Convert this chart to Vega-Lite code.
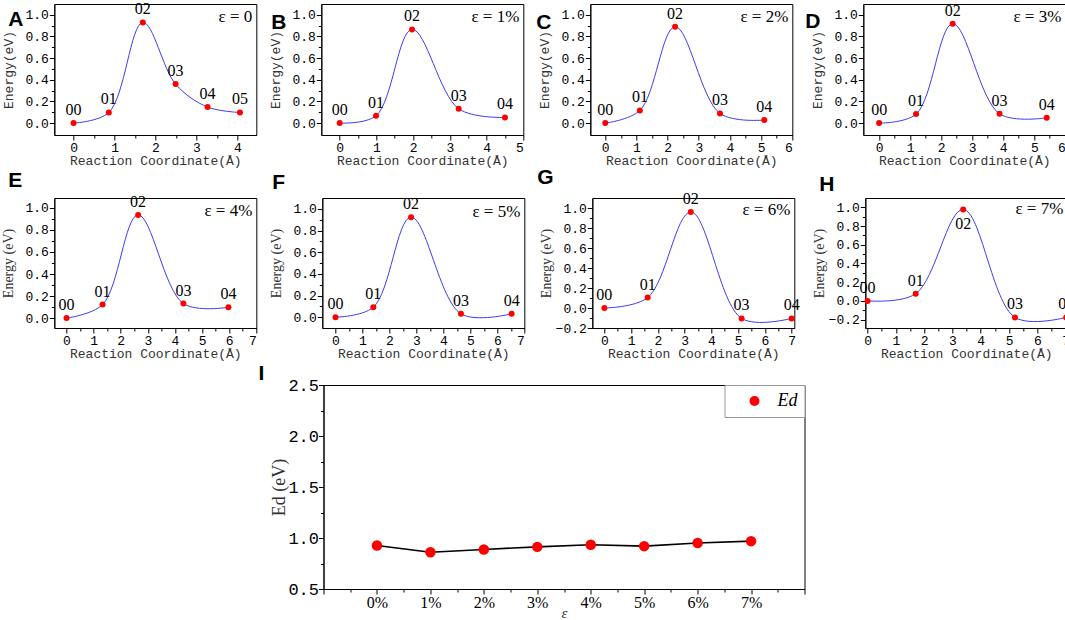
{
  "$schema": "https://vega.github.io/schema/vega-lite/v6.json",
  "padding": {"left": 0, "top": 0, "right": 0, "bottom": 0},
  "center": true,
  "spacing": 1,
  "resolve": {"scale": {"color": "independent"}, "legend": {"color": "independent"}},
  "datasets": {
    "neb": [
      {"panel": "A", "label": "00", "rc": 0, "E": 0},
      {"panel": "A", "label": "01", "rc": 0.86, "E": 0.098},
      {"panel": "A", "label": "02", "rc": 1.69, "E": 0.93},
      {"panel": "A", "label": "03", "rc": 2.49, "E": 0.36},
      {"panel": "A", "label": "04", "rc": 3.27, "E": 0.148},
      {"panel": "A", "label": "05", "rc": 4.06, "E": 0.098},
      {"panel": "B", "label": "00", "rc": 0, "E": 0},
      {"panel": "B", "label": "01", "rc": 0.99, "E": 0.068},
      {"panel": "B", "label": "02", "rc": 1.97, "E": 0.865},
      {"panel": "B", "label": "03", "rc": 3.24, "E": 0.132},
      {"panel": "B", "label": "04", "rc": 4.5, "E": 0.052},
      {"panel": "C", "label": "00", "rc": 0, "E": 0},
      {"panel": "C", "label": "01", "rc": 1.11, "E": 0.117},
      {"panel": "C", "label": "02", "rc": 2.24, "E": 0.89},
      {"panel": "C", "label": "03", "rc": 3.68, "E": 0.089},
      {"panel": "C", "label": "04", "rc": 5.1, "E": 0.028},
      {"panel": "D", "label": "00", "rc": 0, "E": 0},
      {"panel": "D", "label": "01", "rc": 1.19, "E": 0.083},
      {"panel": "D", "label": "02", "rc": 2.37, "E": 0.917},
      {"panel": "D", "label": "03", "rc": 3.88, "E": 0.086},
      {"panel": "D", "label": "04", "rc": 5.4, "E": 0.049},
      {"panel": "E", "label": "00", "rc": 0, "E": 0},
      {"panel": "E", "label": "01", "rc": 1.33, "E": 0.123},
      {"panel": "E", "label": "02", "rc": 2.64, "E": 0.936},
      {"panel": "E", "label": "03", "rc": 4.31, "E": 0.132},
      {"panel": "E", "label": "04", "rc": 5.97, "E": 0.098},
      {"panel": "F", "label": "00", "rc": 0, "E": 0},
      {"panel": "F", "label": "01", "rc": 1.4, "E": 0.092},
      {"panel": "F", "label": "02", "rc": 2.8, "E": 0.923},
      {"panel": "F", "label": "03", "rc": 4.65, "E": 0.031},
      {"panel": "F", "label": "04", "rc": 6.53, "E": 0.031},
      {"panel": "G", "label": "00", "rc": 0, "E": 0},
      {"panel": "G", "label": "01", "rc": 1.62, "E": 0.104},
      {"panel": "G", "label": "02", "rc": 3.23, "E": 0.96},
      {"panel": "G", "label": "03", "rc": 5.13, "E": -0.104},
      {"panel": "G", "label": "04", "rc": 7.0, "E": -0.104},
      {"panel": "H", "label": "00", "rc": 0, "E": 0},
      {"panel": "H", "label": "01", "rc": 1.7, "E": 0.076},
      {"panel": "H", "label": "02", "rc": 3.38, "E": 0.978},
      {"panel": "H", "label": "03", "rc": 5.21, "E": -0.177},
      {"panel": "H", "label": "04", "rc": 7.02, "E": -0.177}
    ],
    "ed": [
      {"strain": 0, "Ed": 0.927},
      {"strain": 1, "Ed": 0.86},
      {"strain": 2, "Ed": 0.888},
      {"strain": 3, "Ed": 0.913},
      {"strain": 4, "Ed": 0.934},
      {"strain": 5, "Ed": 0.92},
      {"strain": 6, "Ed": 0.951},
      {"strain": 7, "Ed": 0.969}
    ]
  },
  "vconcat": [
    {
      "spacing": -2,
      "vconcat": [
        {
          "hconcat": [
            {
              "width": 202, "height": 131,
              "title": {"text": "A", "dx": -46, "offset": -29},
              "encoding": {
                "x": {"field": "rc", "type": "quantitative", "title": "Reaction Coordinate(Å)", "scale": {"domain": [-0.47, 4.46], "nice": false, "zero": false},
                  "axis": {"values": [0, 0.5, 1, 1.5, 2, 2.5, 3, 3.5, 4], "labelExpr": "datum.value % 1 === 0 ? format(datum.value, 'd') : ''", "tickSize": {"condition": {"test": "datum.value % 1 === 0", "value": 5}, "value": 3}}},
                "y": {"field": "E", "type": "quantitative", "title": "Energy(eV)", "scale": {"domain": [-0.11, 1.1], "nice": false, "zero": false},
                  "axis": {"values": [0, 0.1, 0.2, 0.3, 0.4, 0.5, 0.6, 0.7, 0.8, 0.9, 1.0], "labelExpr": "abs(datum.value * 5 - round(datum.value * 5)) < 0.001 ? format(datum.value, '.1f') : ''", "tickSize": {"condition": {"test": "abs(datum.value * 5 - round(datum.value * 5)) < 0.001", "value": 5}, "value": 3}}}
              },
              "layer": [
                {"data": {"name": "neb"}, "transform": [{"filter": "datum.panel === 'A'"}], "mark": {"type": "line", "interpolate": "catmull-rom", "color": "#3c3cf5", "strokeWidth": 1}},
                {"data": {"name": "neb"}, "transform": [{"filter": "datum.panel === 'A'"}], "mark": {"type": "point", "filled": true, "color": "#ff0000", "opacity": 1, "size": 36}},
                {"data": {"name": "neb"}, "transform": [{"filter": "datum.panel === 'A'"}], "mark": {"type": "text", "dy": -13, "font": "Liberation Serif", "fontSize": 16}, "encoding": {"text": {"field": "label"}}},
                {"data": {"name": "neb"}, "transform": [{"filter": "datum.panel === 'A' && datum.label === '00'"}], "mark": {"type": "text", "text": "ε =  0", "align": "right", "dx": -4, "font": "Liberation Serif", "fontSize": 17, "color": "black"}, "encoding": {"x": {"datum": 4.46}, "y": {"datum": 0.98}}}
              ]
            },
            {
              "width": 202, "height": 131,
              "title": {"text": "B", "dx": -50, "offset": -29},
              "encoding": {
                "x": {"field": "rc", "type": "quantitative", "title": "Reaction Coordinate(Å)", "scale": {"domain": [-0.5, 5], "nice": false, "zero": false},
                  "axis": {"values": [0, 0.5, 1, 1.5, 2, 2.5, 3, 3.5, 4, 4.5, 5], "labelExpr": "datum.value % 1 === 0 ? format(datum.value, 'd') : ''", "tickSize": {"condition": {"test": "datum.value % 1 === 0", "value": 5}, "value": 3}}},
                "y": {"field": "E", "type": "quantitative", "title": "Energy(eV)", "scale": {"domain": [-0.11, 1.1], "nice": false, "zero": false},
                  "axis": {"values": [0, 0.1, 0.2, 0.3, 0.4, 0.5, 0.6, 0.7, 0.8, 0.9, 1.0], "labelExpr": "abs(datum.value * 5 - round(datum.value * 5)) < 0.001 ? format(datum.value, '.1f') : ''", "tickSize": {"condition": {"test": "abs(datum.value * 5 - round(datum.value * 5)) < 0.001", "value": 5}, "value": 3}}}
              },
              "layer": [
                {"data": {"name": "neb"}, "transform": [{"filter": "datum.panel === 'B'"}], "mark": {"type": "line", "interpolate": "catmull-rom", "color": "#3c3cf5", "strokeWidth": 1}},
                {"data": {"name": "neb"}, "transform": [{"filter": "datum.panel === 'B'"}], "mark": {"type": "point", "filled": true, "color": "#ff0000", "opacity": 1, "size": 36}},
                {"data": {"name": "neb"}, "transform": [{"filter": "datum.panel === 'B'"}], "mark": {"type": "text", "dy": -13, "font": "Liberation Serif", "fontSize": 16}, "encoding": {"text": {"field": "label"}}},
                {"data": {"name": "neb"}, "transform": [{"filter": "datum.panel === 'B' && datum.label === '00'"}], "mark": {"type": "text", "text": "ε =  1%", "align": "right", "dx": -4, "font": "Liberation Serif", "fontSize": 17, "color": "black"}, "encoding": {"x": {"datum": 5}, "y": {"datum": 0.98}}}
              ]
            },
            {
              "width": 202, "height": 131,
              "title": {"text": "C", "dx": -54, "offset": -29},
              "encoding": {
                "x": {"field": "rc", "type": "quantitative", "title": "Reaction Coordinate(Å)", "scale": {"domain": [-0.48, 6], "nice": false, "zero": false},
                  "axis": {"values": [0, 0.5, 1, 1.5, 2, 2.5, 3, 3.5, 4, 4.5, 5, 5.5, 6], "labelExpr": "datum.value % 1 === 0 ? format(datum.value, 'd') : ''", "tickSize": {"condition": {"test": "datum.value % 1 === 0", "value": 5}, "value": 3}}},
                "y": {"field": "E", "type": "quantitative", "title": "Energy(eV)", "scale": {"domain": [-0.11, 1.1], "nice": false, "zero": false},
                  "axis": {"values": [0, 0.1, 0.2, 0.3, 0.4, 0.5, 0.6, 0.7, 0.8, 0.9, 1.0], "labelExpr": "abs(datum.value * 5 - round(datum.value * 5)) < 0.001 ? format(datum.value, '.1f') : ''", "tickSize": {"condition": {"test": "abs(datum.value * 5 - round(datum.value * 5)) < 0.001", "value": 5}, "value": 3}}}
              },
              "layer": [
                {"data": {"name": "neb"}, "transform": [{"filter": "datum.panel === 'C'"}], "mark": {"type": "line", "interpolate": "catmull-rom", "color": "#3c3cf5", "strokeWidth": 1}},
                {"data": {"name": "neb"}, "transform": [{"filter": "datum.panel === 'C'"}], "mark": {"type": "point", "filled": true, "color": "#ff0000", "opacity": 1, "size": 36}},
                {"data": {"name": "neb"}, "transform": [{"filter": "datum.panel === 'C'"}], "mark": {"type": "text", "dy": -13, "font": "Liberation Serif", "fontSize": 16}, "encoding": {"text": {"field": "label"}}},
                {"data": {"name": "neb"}, "transform": [{"filter": "datum.panel === 'C' && datum.label === '00'"}], "mark": {"type": "text", "text": "ε =  2%", "align": "right", "dx": -4, "font": "Liberation Serif", "fontSize": 17, "color": "black"}, "encoding": {"x": {"datum": 6}, "y": {"datum": 0.98}}}
              ]
            },
            {
              "width": 202, "height": 131,
              "title": {"text": "D", "dx": -58, "offset": -29},
              "encoding": {
                "x": {"field": "rc", "type": "quantitative", "title": "Reaction Coordinate(Å)", "scale": {"domain": [-0.51, 6], "nice": false, "zero": false},
                  "axis": {"values": [0, 0.5, 1, 1.5, 2, 2.5, 3, 3.5, 4, 4.5, 5, 5.5, 6], "labelExpr": "datum.value % 1 === 0 ? format(datum.value, 'd') : ''", "tickSize": {"condition": {"test": "datum.value % 1 === 0", "value": 5}, "value": 3}}},
                "y": {"field": "E", "type": "quantitative", "title": "Energy(eV)", "scale": {"domain": [-0.11, 1.1], "nice": false, "zero": false},
                  "axis": {"values": [0, 0.1, 0.2, 0.3, 0.4, 0.5, 0.6, 0.7, 0.8, 0.9, 1.0], "labelExpr": "abs(datum.value * 5 - round(datum.value * 5)) < 0.001 ? format(datum.value, '.1f') : ''", "tickSize": {"condition": {"test": "abs(datum.value * 5 - round(datum.value * 5)) < 0.001", "value": 5}, "value": 3}}}
              },
              "layer": [
                {"data": {"name": "neb"}, "transform": [{"filter": "datum.panel === 'D'"}], "mark": {"type": "line", "interpolate": "catmull-rom", "color": "#3c3cf5", "strokeWidth": 1}},
                {"data": {"name": "neb"}, "transform": [{"filter": "datum.panel === 'D'"}], "mark": {"type": "point", "filled": true, "color": "#ff0000", "opacity": 1, "size": 36}},
                {"data": {"name": "neb"}, "transform": [{"filter": "datum.panel === 'D'"}], "mark": {"type": "text", "dy": -13, "font": "Liberation Serif", "fontSize": 16}, "encoding": {"text": {"field": "label"}}},
                {"data": {"name": "neb"}, "transform": [{"filter": "datum.panel === 'D' && datum.label === '00'"}], "mark": {"type": "text", "text": "ε =  3%", "align": "right", "dx": -4, "font": "Liberation Serif", "fontSize": 17, "color": "black"}, "encoding": {"x": {"datum": 6}, "y": {"datum": 0.98}}}
              ]
            }
          ],
          "spacing": 11
        },
        {
          "hconcat": [
            {
              "width": 202, "height": 130,
              "title": {"text": "E", "dx": -46, "offset": 3},
              "encoding": {
                "x": {"field": "rc", "type": "quantitative", "title": "Reaction Coordinate(Å)", "scale": {"domain": [-0.45, 7], "nice": false, "zero": false},
                  "axis": {"values": [0, 0.5, 1, 1.5, 2, 2.5, 3, 3.5, 4, 4.5, 5, 5.5, 6, 6.5, 7], "labelExpr": "datum.value % 1 === 0 ? format(datum.value, 'd') : ''", "tickSize": {"condition": {"test": "datum.value % 1 === 0", "value": 5}, "value": 3}}},
                "y": {"field": "E", "type": "quantitative", "title": "Energy (eV)", "scale": {"domain": [-0.09, 1.09], "nice": false, "zero": false},
                  "axis": {"titleFont": "Liberation Serif", "titleFontSize": 14, "values": [0, 0.1, 0.2, 0.3, 0.4, 0.5, 0.6, 0.7, 0.8, 0.9, 1.0], "labelExpr": "abs(datum.value * 5 - round(datum.value * 5)) < 0.001 ? format(datum.value, '.1f') : ''", "tickSize": {"condition": {"test": "abs(datum.value * 5 - round(datum.value * 5)) < 0.001", "value": 5}, "value": 3}}}
              },
              "layer": [
                {"data": {"name": "neb"}, "transform": [{"filter": "datum.panel === 'E'"}], "mark": {"type": "line", "interpolate": "catmull-rom", "color": "#3c3cf5", "strokeWidth": 1}},
                {"data": {"name": "neb"}, "transform": [{"filter": "datum.panel === 'E'"}], "mark": {"type": "point", "filled": true, "color": "#ff0000", "opacity": 1, "size": 36}},
                {"data": {"name": "neb"}, "transform": [{"filter": "datum.panel === 'E'"}], "mark": {"type": "text", "dy": -13, "font": "Liberation Serif", "fontSize": 16}, "encoding": {"text": {"field": "label"}}},
                {"data": {"name": "neb"}, "transform": [{"filter": "datum.panel === 'E' && datum.label === '00'"}], "mark": {"type": "text", "text": "ε =  4%", "align": "right", "dx": -4, "font": "Liberation Serif", "fontSize": 17, "color": "black"}, "encoding": {"x": {"datum": 7}, "y": {"datum": 0.97}}}
              ]
            },
            {
              "width": 202, "height": 130,
              "title": {"text": "F", "dx": -50, "offset": 3},
              "encoding": {
                "x": {"field": "rc", "type": "quantitative", "title": "Reaction Coordinate(Å)", "scale": {"domain": [-0.49, 7], "nice": false, "zero": false},
                  "axis": {"values": [0, 0.5, 1, 1.5, 2, 2.5, 3, 3.5, 4, 4.5, 5, 5.5, 6, 6.5, 7], "labelExpr": "datum.value % 1 === 0 ? format(datum.value, 'd') : ''", "tickSize": {"condition": {"test": "datum.value % 1 === 0", "value": 5}, "value": 3}}},
                "y": {"field": "E", "type": "quantitative", "title": "Energy (eV)", "scale": {"domain": [-0.1, 1.1], "nice": false, "zero": false},
                  "axis": {"titleFont": "Liberation Serif", "titleFontSize": 14, "values": [0, 0.1, 0.2, 0.3, 0.4, 0.5, 0.6, 0.7, 0.8, 0.9, 1.0], "labelExpr": "abs(datum.value * 5 - round(datum.value * 5)) < 0.001 ? format(datum.value, '.1f') : ''", "tickSize": {"condition": {"test": "abs(datum.value * 5 - round(datum.value * 5)) < 0.001", "value": 5}, "value": 3}}}
              },
              "layer": [
                {"data": {"name": "neb"}, "transform": [{"filter": "datum.panel === 'F'"}], "mark": {"type": "line", "interpolate": "catmull-rom", "color": "#3c3cf5", "strokeWidth": 1}},
                {"data": {"name": "neb"}, "transform": [{"filter": "datum.panel === 'F'"}], "mark": {"type": "point", "filled": true, "color": "#ff0000", "opacity": 1, "size": 36}},
                {"data": {"name": "neb"}, "transform": [{"filter": "datum.panel === 'F'"}], "mark": {"type": "text", "dy": -13, "font": "Liberation Serif", "fontSize": 16}, "encoding": {"text": {"field": "label"}}},
                {"data": {"name": "neb"}, "transform": [{"filter": "datum.panel === 'F' && datum.label === '00'"}], "mark": {"type": "text", "text": "ε =  5%", "align": "right", "dx": -4, "font": "Liberation Serif", "fontSize": 17, "color": "black"}, "encoding": {"x": {"datum": 7}, "y": {"datum": 0.97}}}
              ]
            },
            {
              "width": 202, "height": 130,
              "title": {"text": "G", "dx": -55, "offset": 3},
              "encoding": {
                "x": {"field": "rc", "type": "quantitative", "title": "Reaction Coordinate(Å)", "scale": {"domain": [-0.45, 7.1], "nice": false, "zero": false},
                  "axis": {"values": [0, 0.5, 1, 1.5, 2, 2.5, 3, 3.5, 4, 4.5, 5, 5.5, 6, 6.5, 7], "labelExpr": "datum.value % 1 === 0 ? format(datum.value, 'd') : ''", "tickSize": {"condition": {"test": "datum.value % 1 === 0", "value": 5}, "value": 3}}},
                "y": {"field": "E", "type": "quantitative", "title": "Energy (eV)", "scale": {"domain": [-0.2, 1.1], "nice": false, "zero": false},
                  "axis": {"titleFont": "Liberation Serif", "titleFontSize": 14, "values": [-0.2, -0.1, 0, 0.1, 0.2, 0.3, 0.4, 0.5, 0.6, 0.7, 0.8, 0.9, 1.0], "labelExpr": "abs(datum.value * 5 - round(datum.value * 5)) < 0.001 ? format(datum.value, '.1f') : ''", "tickSize": {"condition": {"test": "abs(datum.value * 5 - round(datum.value * 5)) < 0.001", "value": 5}, "value": 3}}}
              },
              "layer": [
                {"data": {"name": "neb"}, "transform": [{"filter": "datum.panel === 'G'"}], "mark": {"type": "line", "interpolate": "catmull-rom", "color": "#3c3cf5", "strokeWidth": 1}},
                {"data": {"name": "neb"}, "transform": [{"filter": "datum.panel === 'G'"}], "mark": {"type": "point", "filled": true, "color": "#ff0000", "opacity": 1, "size": 36}},
                {"data": {"name": "neb"}, "transform": [{"filter": "datum.panel === 'G'"}], "mark": {"type": "text", "dy": -13, "font": "Liberation Serif", "fontSize": 16}, "encoding": {"text": {"field": "label"}}},
                {"data": {"name": "neb"}, "transform": [{"filter": "datum.panel === 'G' && datum.label === '00'"}], "mark": {"type": "text", "text": "ε =  6%", "align": "right", "dx": -4, "font": "Liberation Serif", "fontSize": 17, "color": "black"}, "encoding": {"x": {"datum": 7.1}, "y": {"datum": 0.98}}}
              ]
            },
            {
              "width": 202, "height": 130,
              "title": {"text": "H", "dx": -46, "offset": 3},
              "encoding": {
                "x": {"field": "rc", "type": "quantitative", "title": "Reaction Coordinate(Å)", "scale": {"domain": [-0.08, 7.06], "nice": false, "zero": false},
                  "axis": {"values": [0, 0.5, 1, 1.5, 2, 2.5, 3, 3.5, 4, 4.5, 5, 5.5, 6, 6.5, 7], "labelExpr": "datum.value % 1 === 0 ? format(datum.value, 'd') : ''", "tickSize": {"condition": {"test": "datum.value % 1 === 0", "value": 5}, "value": 3}}},
                "y": {"field": "E", "type": "quantitative", "title": "Energy (eV)", "scale": {"domain": [-0.29, 1.1], "nice": false, "zero": false},
                  "axis": {"titleFont": "Liberation Serif", "titleFontSize": 14, "values": [-0.2, -0.1, 0, 0.1, 0.2, 0.3, 0.4, 0.5, 0.6, 0.7, 0.8, 0.9, 1.0], "labelExpr": "abs(datum.value * 5 - round(datum.value * 5)) < 0.001 ? format(datum.value, '.1f') : ''", "tickSize": {"condition": {"test": "abs(datum.value * 5 - round(datum.value * 5)) < 0.001", "value": 5}, "value": 3}}}
              },
              "layer": [
                {"data": {"name": "neb"}, "transform": [{"filter": "datum.panel === 'H'"}], "mark": {"type": "line", "interpolate": "catmull-rom", "color": "#3c3cf5", "strokeWidth": 1}},
                {"data": {"name": "neb"}, "transform": [{"filter": "datum.panel === 'H'"}], "mark": {"type": "point", "filled": true, "color": "#ff0000", "opacity": 1, "size": 36}},
                {"data": {"name": "neb"}, "transform": [{"filter": "datum.panel === 'H' && datum.label !== '02'"}], "mark": {"type": "text", "dy": -13, "font": "Liberation Serif", "fontSize": 16}, "encoding": {"text": {"field": "label"}}},
                {"data": {"name": "neb"}, "transform": [{"filter": "datum.panel === 'H' && datum.label === '02'"}], "mark": {"type": "text", "dy": 15, "font": "Liberation Serif", "fontSize": 16}, "encoding": {"text": {"field": "label"}}},
                {"data": {"name": "neb"}, "transform": [{"filter": "datum.panel === 'H' && datum.label === '00'"}], "mark": {"type": "text", "text": "ε =  7%", "align": "right", "dx": -4, "font": "Liberation Serif", "fontSize": 17, "color": "black"}, "encoding": {"x": {"datum": 7.06}, "y": {"datum": 0.98}}}
              ]
            }
          ],
          "spacing": 11
        }
      ]
    },
    {
      "width": 481, "height": 204,
      "title": {"text": "I", "dx": -65, "offset": -8},
      "data": {"name": "ed"},
      "encoding": {
        "x": {"field": "strain", "type": "quantitative", "title": "ε", "scale": {"domain": [-1, 8], "nice": false, "zero": false},
          "axis": {"values": [-1, -0.5, 0, 0.5, 1, 1.5, 2, 2.5, 3, 3.5, 4, 4.5, 5, 5.5, 6, 6.5, 7, 7.5, 8], "labelExpr": "datum.value >= 0 && datum.value <= 7 && datum.value % 1 === 0 ? datum.value + '%' : ''", "tickSize": {"condition": {"test": "datum.value % 1 === 0", "value": 5}, "value": 3}, "labelFont": "Liberation Serif", "labelFontSize": 16, "labelPadding": 0, "titleFont": "Liberation Serif", "titleFontStyle": "italic", "titleFontSize": 15, "titlePadding": -5}},
        "y": {"field": "Ed", "type": "quantitative", "title": "Ed (eV)", "scale": {"domain": [0.5, 2.5], "nice": false, "zero": false},
          "axis": {"values": [0.5, 0.75, 1, 1.25, 1.5, 1.75, 2, 2.25, 2.5], "labelExpr": "datum.value * 2 % 1 === 0 ? format(datum.value, '.1f') : ''", "tickSize": {"condition": {"test": "datum.value * 2 % 1 === 0", "value": 5}, "value": 3}, "minExtent": 35, "maxExtent": 35, "labelFontSize": 17, "labelPadding": 0, "titleFont": "Liberation Serif", "titleFontSize": 18, "titlePadding": 0}}
      },
      "layer": [
        {"mark": {"type": "line", "color": "black", "strokeWidth": 1.6}},
        {"mark": {"type": "point", "filled": true, "color": "#ff0000", "opacity": 1, "size": 110},
          "encoding": {"color": {"datum": "Ed", "scale": {"range": ["#ff0000"]},
            "legend": {"title": null, "orient": "top-right", "offset": 0, "strokeColor": "#999", "fillColor": "white", "padding": 7, "symbolSize": 100, "symbolType": "circle", "symbolStrokeWidth": 0, "labelFont": "Liberation Serif", "labelFontStyle": "italic", "labelFontSize": 18, "labelOffset": 14, "symbolOffset": 14}}}}
      ]
    }
  ],
  "config": {
    "view": {"stroke": "black", "strokeWidth": 1},
    "axis": {"grid": false, "domainColor": "black", "tickColor": "black", "labelColor": "black", "titleColor": "#333", "labelFont": "Liberation Mono", "labelFontSize": 13, "titleFont": "Liberation Mono", "titleFontSize": 13, "titleFontWeight": "normal", "labelPadding": 1, "titlePadding": 0},
    "axisY": {"minExtent": 38, "maxExtent": 38, "titlePadding": 1},
    "title": {"anchor": "start", "frame": "group", "font": "Liberation Sans", "fontSize": 21, "fontWeight": "bold", "color": "black"}
  }
}
